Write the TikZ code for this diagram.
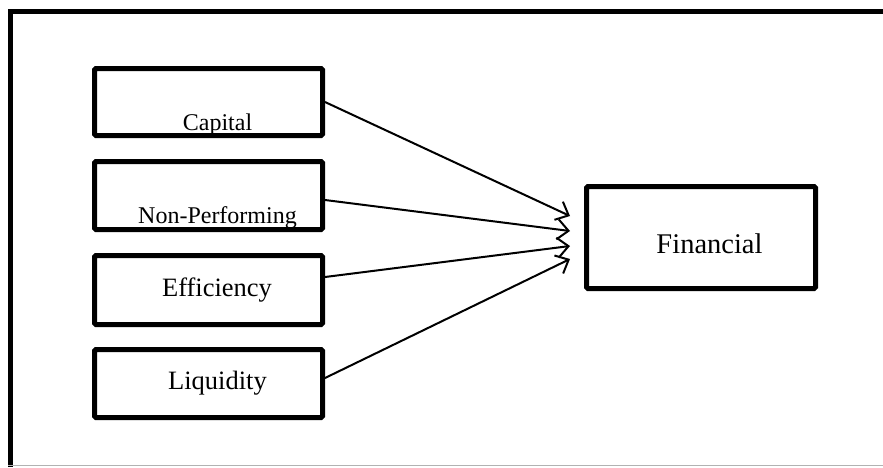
\documentclass[tikz,border=0pt]{standalone}
\usepackage{fontspec}
\setmainfont{Liberation Serif}
\usetikzlibrary{arrows.meta,calc}
\begin{document}
\begin{tikzpicture}[x=1pt,y=-1pt,
  box/.style={draw,line width=5pt,rounded corners=1.5pt,inner sep=0pt},
  lbl/.style={anchor=base,inner sep=0pt},
  conn/.style={line width=2pt,-{Straight Barb[length=11pt,width=20pt,line width=2pt]}}]
\useasboundingbox (0,0) rectangle (883,467);
\fill[white] (0,0) rectangle (883,467);
% frame
\draw[line width=5pt] (10.5,467) -- (10.5,11.5) -- (883,11.5);
\draw[gray!60,line width=1pt] (8,465.5) -- (883,465.5);
% boxes
\node[box,minimum width=228pt,minimum height=67pt] (cap) at (208.5,102) {};
\node[box,minimum width=228pt,minimum height=68pt] (npl) at (208.5,195.5) {};
\node[box,minimum width=228pt,minimum height=69pt] (eff) at (208.5,290) {};
\node[box,minimum width=228pt,minimum height=68pt] (liq) at (208.5,383.5) {};
\node[box,minimum width=229pt,minimum height=102pt] (fin) at (701,237.5) {};
% labels
\node[lbl,font=\fontsize{24}{28}\selectfont] (capt) at (217.5,130) {Capital};
\node[lbl,font=\fontsize{24}{28}\selectfont] (nplt) at (217.5,223) {Non-Performing};
\node[lbl,font=\fontsize{26.5}{30}\selectfont] (efft) at (217,296) {Efficiency};
\node[lbl,font=\fontsize{26.5}{30}\selectfont] (liqt) at (217.5,389) {Liquidity};
\node[lbl,font=\fontsize{28.5}{32}\selectfont] (fint) at (709.5,253) {Financial};
% arrow ends
\coordinate (t1) at (570,216);
\coordinate (t2) at (570,231);
\coordinate (t3) at (570,246);
\coordinate (t4) at (570,259);
\draw[conn] (cap.east) -- (t1);
\draw[conn] ($(npl.east)+(0,4.5)$) -- (t2);
\draw[conn] ($(eff.east)+(0,-13)$) -- (t3);
\draw[conn] ($(liq.east)+(0,-5.5)$) -- (t4);
\end{tikzpicture}
\end{document}
